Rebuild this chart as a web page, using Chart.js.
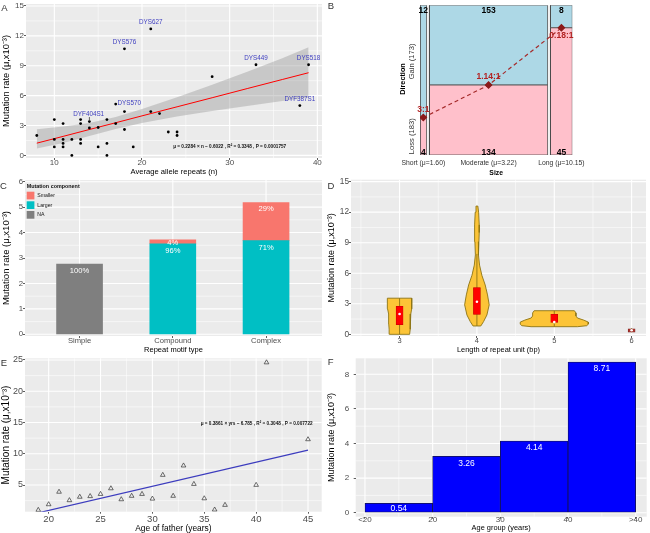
<!DOCTYPE html>
<html>
<head>
<meta charset="utf-8">
<title>Y-STR mutation rates</title>
<script src="https://cdn.jsdelivr.net/npm/chart.js@4.4.1/dist/chart.umd.min.js"></script>
<style>
html, body { margin: 0; padding: 0; background: #ffffff; }
#fig { position: relative; width: 650px; height: 533px; overflow: hidden; background: #ffffff; }
#fig canvas { position: absolute; left: 0; top: 0; }
</style>
</head>
<body>
<div id="fig">
  <canvas id="panelA" width="650" height="533"></canvas>
  <canvas id="panelB" width="650" height="533"></canvas>
  <canvas id="panelC" width="650" height="533"></canvas>
  <canvas id="panelD" width="650" height="533"></canvas>
  <canvas id="panelE" width="650" height="533"></canvas>
  <canvas id="panelF" width="650" height="533"></canvas>
</div>
<script>
// ===================== DATA =====================
// Panel A: mutation rate vs average allele repeats
const aRepeats = [8,10,10,10,11,11,11,11,12,12,13,13,13,13,14,14,15,15,16,16,16,17,17,18,18,18,19,21,21,22,23,24,24,28,33,39,38];
const aRates   = [2.0,3.6,1.6,0.85,3.2,1.6,1.2,0.85,1.6,0,3.6,3.2,1.6,1.2,3.4,2.75,2.8,0.85,3.6,1.2,0,5.15,3.2,10.7,4.4,2.6,0.85,12.7,4.4,4.2,2.35,2.35,2.0,7.9,9.1,9.1,5.0];
const aFitRepeats = [8, 11, 14, 17, 20, 24, 28, 32, 36, 39];
const aFitRates   = [1.23, 1.91, 2.60, 3.28, 3.97, 4.88, 5.79, 6.71, 7.62, 8.30];
const aBandUpper  = [2.62, 2.90, 3.25, 3.85, 4.65, 5.85, 7.10, 8.40, 9.75, 10.85];
const aBandLower  = [0.70, 1.25, 1.95, 2.65, 3.25, 3.90, 4.45, 4.95, 5.45, 5.80];
const aLabelNames   = ['DYS627','DYS576','DYS449','DYS518','DYF387S1','DYS570','DYF404S1'];
const aLabelRepeats = [21, 18, 33, 39, 38, 17, 14];
const aLabelRates   = [12.7, 10.7, 9.1, 9.1, 5.0, 5.15, 3.4];
const aEquation = 'μ = 0.2284 × n − 0.6022 , R² = 0.3348 , P = 0.0001757';

// Panel B: mosaic of size vs direction
const bSizeLabels = ['Short (μ=1.60)', 'Moderate (μ=3.22)', 'Long (μ=10.15)'];
const bGain = [12, 153, 8];
const bLoss = [4, 134, 45];

// Panel C: mutation rate by repeat motif type
const cTypes   = ['Simple', 'Compound', 'Complex'];
const cNA      = [2.76, null, null];
const cLarger  = [null, 3.56, 3.68];
const cSmaller = [null, 0.15, 1.50];

// Panel D: violins by length of repeat unit
const dLengths     = [3, 4, 5, 6];
const dBoxLow      = [0.95, 1.95, 1.18, 0.22];
const dBoxHigh     = [2.75, 4.60, 1.97, 0.55];
const dMedians     = [2.0, 3.2, 1.2, 0.4];
const dWhiskerLow  = [0, 0.82, 0.75, 0.2];
const dWhiskerHigh = [3.55, 7.9, 2.32, 0.6];
const dViolin3Rates = [0, 0.5, 1.0, 1.5, 2.0, 2.5, 3.0, 3.55];
const dViolin3Half  = [0.13, 0.135, 0.14, 0.138, 0.145, 0.155, 0.158, 0.158];
const dViolin4Rates = [0.82, 1.25, 1.9, 2.9, 3.87, 4.85, 5.8, 6.8, 7.8, 9.1, 10.0, 10.75, 12.0, 12.6];
const dViolin4Half  = [0.05, 0.086, 0.129, 0.159, 0.137, 0.107, 0.064, 0.034, 0.02, 0.026, 0.03, 0.03, 0.022, 0.012];
const dViolin5Rates = [0.75, 0.85, 1.0, 1.2, 1.4, 1.6, 1.8, 2.1, 2.32];
const dViolin5Half  = [0.30, 0.42, 0.44, 0.44, 0.38, 0.30, 0.28, 0.28, 0.26];

// Panel E: mutation rate vs age of father
const eAges  = [19,20,21,22,23,24,25,26,27,28,29,30,31,32,33,34,35,36,37,40,41,45];
const eRates = [1.0,1.9,3.9,2.55,3.1,3.2,3.55,4.45,2.7,3.25,3.55,2.8,6.6,3.25,8.1,5.15,2.85,1.05,1.8,5.0,24.6,12.3];
const eFitAges  = [19, 45];
const eFitRates = [0.55, 10.59];
const eEquation = 'μ = 0.3861 × yrs − 6.785 , R² = 0.3048 , P = 0.007722';

// Panel F: mutation rate by age group
const fTickLabels = ['<20', '20', '30', '40', '>40'];
const fRates = [0.54, 3.26, 4.14, 8.71];

// ===================== HELPERS =====================
const FONT = "'Liberation Sans', Arial, Helvetica, sans-serif";
Chart.defaults.font.family = FONT;
const CW = 650, CH = 533;
const PANEL_BG = '#EBEBEB';
const YTITLE = 'Mutation rate (μ,x10⁻³)';

function font(size, weight) { return (weight ? weight + ' ' : '') + size + 'px ' + FONT; }
function pts(xs, ys) { return xs.map((x, i) => ({ x: x, y: ys[i] })); }

// ggplot-like panel: grey background plus white major/minor grid lines
function bgPlugin(color, gx, gy) {
  return { id: 'panelBg', beforeDraw(chart) {
    const a = chart.chartArea, ctx = chart.ctx;
    ctx.save();
    ctx.fillStyle = color; ctx.fillRect(a.left, a.top, a.right - a.left, a.bottom - a.top);
    ctx.strokeStyle = '#FFFFFF';
    const draw = (spec, scale, horiz) => {
      if (!spec) return;
      [[spec.minor || [], 0.55], [spec.major, 1.1]].forEach(([vals, w]) => {
        ctx.lineWidth = w;
        vals.forEach(v => {
          const p = scale.getPixelForValue(v);
          if (p < (horiz ? a.left : a.top) - 0.5 || p > (horiz ? a.right : a.bottom) + 0.5) return;
          ctx.beginPath();
          if (horiz) { ctx.moveTo(p, a.top); ctx.lineTo(p, a.bottom); }
          else { ctx.moveTo(a.left, p); ctx.lineTo(a.right, p); }
          ctx.stroke();
        });
      });
    };
    draw(gy, chart.scales.y, false);
    draw(gx, chart.scales.x, true);
    ctx.restore();
  }};
}
function textPlugin(items, extra) {
  return { id: 'panelText', afterDraw(chart) {
    const ctx = chart.ctx, sx = chart.scales.x, sy = chart.scales.y;
    if (extra) extra(chart, ctx);
    for (const it of items) {
      let x = it.dx !== undefined ? sx.getPixelForValue(it.dx) : it.x;
      let y = it.dy !== undefined ? sy.getPixelForValue(it.dy) : it.y;
      x += it.ox || 0; y += it.oy || 0;
      ctx.save(); ctx.translate(x, y); if (it.rot) ctx.rotate(it.rot);
      ctx.font = it.font || font(8); ctx.fillStyle = it.color || '#000';
      ctx.textAlign = it.align || 'center'; ctx.textBaseline = 'middle';
      if (it.maxW) ctx.fillText(it.text, 0, 0, it.maxW); else ctx.fillText(it.text, 0, 0);
      ctx.restore();
    }
  }};
}
function ggAxis(o) {
  const major = o.major, minor = o.minor || [];
  const all = major.concat(minor).sort((a, b) => a - b);
  const isMajor = v => major.some(m => Math.abs(m - v) < 1e-9);
  return {
    type: 'linear', min: o.min, max: o.max, bounds: 'data', grace: 0, offset: false, stacked: !!o.stacked,
    afterBuildTicks: s => { s.ticks = all.map(v => ({ value: v })); },
    afterFit: s => {
      if (o.horizontal) s.height = o.size; else s.width = o.size;
      s.paddingTop = 0; s.paddingBottom = 0; s.paddingLeft = 0; s.paddingRight = 0;
    },
    grid: {
      display: o.drawTicks !== false, drawOnChartArea: false, offset: false,
      color: 'rgba(0,0,0,0)',
      drawTicks: o.drawTicks !== false, tickLength: 2, tickWidth: 0.8,
      tickColor: c => (c.tick && isMajor(c.tick.value)) ? '#333333' : 'rgba(0,0,0,0)'
    },
    border: { display: false },
    ticks: {
      autoSkip: false, maxRotation: 0, minRotation: 0, padding: o.tickPad || 0,
      color: o.tickColor || '#4D4D4D',
      font: { family: FONT, size: o.tickSize || 8, lineHeight: 1 },
      callback: v => isMajor(v) ? (o.label ? o.label(v) : String(v)) : ''
    },
    title: {
      display: !!o.title, text: o.title || '', color: '#000',
      font: { family: FONT, size: o.titleSize || 8, lineHeight: 1, weight: o.titleWeight || 'normal' },
      padding: { top: o.titlePad || 0, bottom: o.titlePad || 0 }
    }
  };
}
function baseOptions(area, yW, xH, scales) {
  return {
    responsive: false, animation: false, devicePixelRatio: 1,
    events: [],
    layout: { padding: { left: area.l - yW, top: area.t, right: CW - area.r, bottom: CH - area.b - xH } },
    plugins: { legend: { display: false }, tooltip: { enabled: false }, title: { display: false } },
    scales: scales
  };
}
function rectPts(x0, x1, y0, y1) {
  return [{x:x0,y:y0},{x:x1,y:y0},{x:x1,y:y1},{x:x0,y:y1},{x:x0,y:y0}];
}
function violinPts(c, ys, hw) {
  const left = ys.map((y, i) => ({ x: c - hw[i], y: y }));
  const right = ys.map((y, i) => ({ x: c + hw[i], y: y })).reverse();
  return left.concat(right, [left[0]]);
}

// ===================== PANEL A =====================
(function () {
  const area = { l: 26, t: 2, r: 322, b: 158 };
  const yW = 26, xH = 17.8;
  const gx = { major: [10,20,30,40], minor: [15,25,35] };
  const gy = { major: [0,3,6,9,12,15], minor: [1.5,4.5,7.5,10.5,13.5] };
  const offsets = [[0,-6.7,'center'],[0,-6.3,'center'],[0,-7,'center'],[0,-7,'center'],[0,-6.7,'center'],[1.8,-0.6,'left'],[-0.7,-7.6,'center']];
  const items = [{ text: 'A', x: 4.5, y: 8, font: font(9.5), color: '#333' }];
  aLabelNames.forEach((n, i) => items.push({ text: n, dx: aLabelRepeats[i], dy: aLabelRates[i], ox: offsets[i][0], oy: offsets[i][1], align: offsets[i][2], font: font(6.3), color: '#4040C0' }));
  items.push({ text: aEquation, dx: 30, dy: 0.92, font: font(5.5, 'bold'), maxW: 113, color: '#111' });
  const extra = (chart, ctx) => {
    const i = 6;
    const x = chart.scales.x.getPixelForValue(aLabelRepeats[i]);
    const y = chart.scales.y.getPixelForValue(aLabelRates[i]);
    ctx.save(); ctx.strokeStyle = '#222'; ctx.lineWidth = 0.7;
    ctx.beginPath(); ctx.moveTo(x, y - 4.5); ctx.lineTo(x, y - 1.2); ctx.stroke(); ctx.restore();
  };
  new Chart(document.getElementById('panelA'), {
    type: 'scatter',
    data: { datasets: [
      { type: 'scatter', data: pts(aRepeats, aRates), pointRadius: 1.4, pointBackgroundColor: '#000', pointBorderWidth: 0, order: 0 },
      { type: 'line', data: pts(aFitRepeats, aFitRates), showLine: true, borderColor: '#FF0000', borderWidth: 1, pointRadius: 0, fill: false, order: 1 },
      { type: 'line', data: pts(aFitRepeats, aBandUpper), showLine: true, borderColor: 'rgba(0,0,0,0)', borderWidth: 0, pointRadius: 0, fill: 3, backgroundColor: 'rgba(153,153,153,0.42)', order: 2 },
      { type: 'line', data: pts(aFitRepeats, aBandLower), showLine: true, borderColor: 'rgba(0,0,0,0)', borderWidth: 0, pointRadius: 0, fill: false, order: 3 }
    ]},
    options: baseOptions(area, yW, xH, {
      x: ggAxis(Object.assign({ horizontal: true, size: xH, min: 6.77, max: 40.53, tickSize: 8, tickPad: -1.5, title: 'Average allele repeats (n)', titleSize: 7.6 }, gx)),
      y: ggAxis(Object.assign({ size: yW, min: -0.26, max: 15.2, tickSize: 8, title: YTITLE, titleSize: 9.3, titlePad: 1.35 }, gy))
    }),
    plugins: [bgPlugin(PANEL_BG, gx, gy), textPlugin(items, extra)]
  });
})();

// ===================== PANEL B =====================
(function () {
  const area = { l: 420, t: 2.7, r: 572.3, b: 155 };
  const xH = 21.4;
  const gap = 7;
  const totals = bGain.map((g, i) => g + bLoss[i]);
  const x0 = []; let acc = 0;
  totals.forEach(t => { x0.push(acc); acc += t + gap; });
  const xMax = acc - gap;
  const x1 = x0.map((x, i) => x + totals[i]);
  const centers = x0.map((x, i) => (x + x1[i]) / 2);
  const lossFrac = bLoss.map((l, i) => l / totals[i]);
  const datasets = [];
  totals.forEach((t, i) => {
    datasets.push({ type: 'line', data: rectPts(x0[i], x1[i], 0, lossFrac[i]), showLine: true, fill: 'shape', backgroundColor: '#FFC0CB', borderColor: '#4A4A4A', borderWidth: 0.8, pointRadius: 0, tension: 0, order: 5 });
    datasets.push({ type: 'line', data: rectPts(x0[i], x1[i], lossFrac[i], 1), showLine: true, fill: 'shape', backgroundColor: '#ADD8E6', borderColor: '#4A4A4A', borderWidth: 0.8, pointRadius: 0, tension: 0, order: 5 });
  });
  datasets.push({ type: 'line', data: pts(centers, lossFrac), showLine: true, fill: false, borderColor: '#A52A2A', borderWidth: 1.2, borderDash: [4, 3],
    pointStyle: 'rectRot', pointRadius: 3.2, pointBackgroundColor: '#8B1A1A', pointBorderColor: '#8B1A1A', order: 0 });
  const sum = a => a.reduce((s, v) => s + v, 0);
  const ratioOffsets = [-8.3, -8.3, 8.3];
  const items = [{ text: 'B', x: 331, y: 6.5, font: font(9.5), color: '#333' }];
  centers.forEach((c, i) => {
    items.push({ text: String(bGain[i]), dx: c, dy: 1, oy: 5.6, font: font(8.5, 'bold') });
    items.push({ text: String(bLoss[i]), dx: c, dy: 0, oy: -2.4, font: font(8.5, 'bold') });
    items.push({ text: (+(bGain[i] / bLoss[i]).toFixed(2)) + ':1', dx: c, dy: lossFrac[i], oy: ratioOffsets[i], font: font(8.5, 'bold'), color: '#B22222' });
  });
  items.push({ text: 'Direction', x: 403.3, y: 79, rot: -Math.PI / 2, font: font(7.3, 'bold') });
  items.push({ text: 'Gain (' + sum(bGain) + ')', x: 412.3, dy: (lossFrac[0] + 1) / 2, rot: -Math.PI / 2, font: font(7.6), color: '#333' });
  items.push({ text: 'Loss (' + sum(bLoss) + ')', x: 412.3, dy: lossFrac[0] / 2, rot: -Math.PI / 2, font: font(7.6), color: '#333' });
  new Chart(document.getElementById('panelB'), {
    type: 'scatter',
    data: { datasets: datasets },
    options: baseOptions(area, 0, xH, {
      x: ggAxis({ horizontal: true, size: xH, min: 0, max: xMax, major: centers, drawTicks: false, tickPad: 4.6, tickSize: 6.8, tickColor: '#333',
        label: v => bSizeLabels[centers.findIndex(c => Math.abs(c - v) < 1e-9)], title: 'Size', titleSize: 6.8, titleWeight: 'bold' }),
      y: { display: false, min: 0, max: 1 }
    }),
    plugins: [textPlugin(items)]
  });
})();

// ===================== PANEL C =====================
(function () {
  const area = { l: 25, t: 180, r: 322, b: 336 };
  const yW = 25, xH = 17.25;
  const pos = cTypes.map((t, i) => i + 1);
  const gx = { major: pos, minor: [] };
  const gy = { major: [0,1,2,3,4,5,6], minor: [0.5,1.5,2.5,3.5,4.5,5.5] };
  const mk = arr => pos.map((p, i) => arr[i] === null ? null : { x: p, y: arr[i] }).filter(d => d);
  const datasets = [
    { label: 'NA', data: mk(cNA), backgroundColor: '#7F7F7F' },
    { label: 'Larger', data: mk(cLarger), backgroundColor: '#00BFC4' },
    { label: 'Smaller', data: mk(cSmaller), backgroundColor: '#F8766D' }
  ];
  datasets.forEach(d => { d.barThickness = 46; d.borderWidth = 0; });
  const items = [{ text: 'C', x: 3.5, y: 186.5, font: font(9.5), color: '#333' }];
  const lbl = { font: font(7.6), color: '#FFFFFF' };
  pos.forEach((p, i) => {
    const total = (cNA[i] || 0) + (cLarger[i] || 0) + (cSmaller[i] || 0);
    if (cNA[i] !== null) items.push(Object.assign({ text: Math.round(100 * cNA[i] / total) + '%', dx: p, dy: cNA[i], oy: 7.3 }, lbl));
    if (cLarger[i] !== null) items.push(Object.assign({ text: Math.round(100 * cLarger[i] / total) + '%', dx: p, dy: cLarger[i], oy: 6.8 }, lbl));
    if (cSmaller[i] !== null) items.push(Object.assign({ text: Math.round(100 * cSmaller[i] / total) + '%', dx: p, dy: total, oy: cSmaller[i] < 0.5 ? 3.4 : 6.3 }, lbl));
  });
  const legend = (chart, ctx) => {
    ctx.save();
    ctx.fillStyle = '#111'; ctx.font = font(5.4, 'bold'); ctx.textAlign = 'left'; ctx.textBaseline = 'middle';
    ctx.fillText('Mutation component', 26.7, 186.8);
    const order = [2, 1, 0];
    const ys = [191.7, 201.3, 211];
    order.forEach((di, k) => {
      const ds = chart.data.datasets[di];
      ctx.fillStyle = ds.backgroundColor; ctx.fillRect(26.7, ys[k], 7.7, 7.7);
      ctx.fillStyle = '#111'; ctx.font = font(5.2);
      ctx.fillText(ds.label, 37.3, ys[k] + 3.9);
    });
    ctx.restore();
  };
  new Chart(document.getElementById('panelC'), {
    type: 'bar',
    data: { datasets: datasets },
    options: baseOptions(area, yW, xH, {
      x: ggAxis(Object.assign({ horizontal: true, size: xH, min: 0.415, max: 3.6, stacked: true, tickSize: 7.6, tickPad: -1.1,
        label: v => cTypes[Math.round(v) - 1], title: 'Repeat motif type', titleSize: 7.5 }, gx)),
      y: ggAxis(Object.assign({ size: yW, min: -0.066, max: 6.066, stacked: true, tickSize: 7.8, title: YTITLE, titleSize: 9.5, titlePad: 1.25 }, gy))
    }),
    plugins: [bgPlugin(PANEL_BG, gx, gy), textPlugin(items, legend)]
  });
})();

// ===================== PANEL D =====================
(function () {
  const area = { l: 351, t: 179.7, r: 646.7, b: 336 };
  const yW = 26, xH = 17.7;
  const gx = { major: [3,4,5,6], minor: [2.5,3.5,4.5,5.5] };
  const gy = { major: [0,3,6,9,12,15], minor: [1.5,4.5,7.5,10.5,13.5] };
  const vFill = '#FCC437', vLine = '#8C7414';
  const profiles = [[dViolin3Rates, dViolin3Half], [dViolin4Rates, dViolin4Half], [dViolin5Rates, dViolin5Half]];
  const datasets = [];
  profiles.forEach((p, i) => {
    datasets.push({ type: 'line', data: violinPts(dLengths[i], p[0], p[1]), showLine: true, fill: 'shape', backgroundColor: vFill, borderColor: vLine, borderWidth: 0.9, pointRadius: 0, tension: 0, order: 4 });
  });
  dLengths.forEach((c, i) => {
    datasets.push({ type: 'line', data: [{ x: c, y: dWhiskerLow[i] }, { x: c, y: dWhiskerHigh[i] }], showLine: true, fill: false, borderColor: vLine, borderWidth: 0.9, pointRadius: 0, order: 3 });
  });
  datasets.push({ type: 'bar', data: dLengths.map((c, i) => ({ x: c, y: [dBoxLow[i], dBoxHigh[i]] })), barThickness: 7,
    backgroundColor: ['#FF0000', '#FF0000', '#FF0000', '#A8322A'], borderColor: ['#C00000', '#C00000', '#C00000', '#7A1E1E'], borderWidth: 0.6, borderSkipped: false, order: 2 });
  datasets.push({ type: 'scatter', data: pts(dLengths, dMedians), pointRadius: 1.3, pointBackgroundColor: '#FFFFFF', pointBorderWidth: 0, order: 0 });
  const items = [{ text: 'D', x: 331, y: 186.7, font: font(9.5), color: '#333' }];
  new Chart(document.getElementById('panelD'), {
    type: 'scatter',
    data: { datasets: datasets },
    options: baseOptions(area, yW, xH, {
      x: ggAxis(Object.assign({ horizontal: true, size: xH, min: 2.372, max: 6.186, tickSize: 7.5, tickPad: -1.2, title: 'Length of repeat unit (bp)', titleSize: 7.4 }, gx)),
      y: ggAxis(Object.assign({ size: yW, min: -0.164, max: 15.19, tickSize: 8.3, title: YTITLE, titleSize: 9, titlePad: 2.2 }, gy))
    }),
    plugins: [bgPlugin(PANEL_BG, gx, gy), textPlugin(items)]
  });
})();

// ===================== PANEL E =====================
(function () {
  const area = { l: 25, t: 358.3, r: 321.7, b: 511.7 };
  const yW = 25, xH = 20.8;
  const gx = { major: [20,25,30,35,40,45], minor: [22.5,27.5,32.5,37.5,42.5] };
  const gy = { major: [5,10,15,20,25], minor: [2.5,7.5,12.5,17.5,22.5] };
  const items = [
    { text: 'E', x: 4, y: 363.3, font: font(9.5), color: '#333' },
    { text: eEquation, dx: 40.05, dy: 14.87, font: font(5.5, 'bold'), maxW: 112, color: '#111' }
  ];
  new Chart(document.getElementById('panelE'), {
    type: 'scatter',
    data: { datasets: [
      { type: 'scatter', data: pts(eAges, eRates), pointStyle: 'triangle', pointRadius: 2.7, pointBackgroundColor: 'rgba(0,0,0,0)', pointBorderColor: '#333', pointBorderWidth: 0.7, order: 0 },
      { type: 'line', data: pts(eFitAges, eFitRates), showLine: true, borderColor: '#3C3CBE', borderWidth: 1.2, pointRadius: 0, fill: false, order: 1 }
    ]},
    options: baseOptions(area, yW, xH, {
      x: ggAxis(Object.assign({ horizontal: true, size: xH, min: 17.72, max: 46.32, tickSize: 9.5, tickPad: 0.8, title: 'Age of father (years)', titleSize: 8.4 }, gx)),
      y: ggAxis(Object.assign({ size: yW, min: 0.73, max: 25.27, tickSize: 9, title: YTITLE, titleSize: 10, titlePad: 1 }, gy))
    }),
    plugins: [bgPlugin(PANEL_BG, gx, gy), textPlugin(items)]
  });
})();

// ===================== PANEL F =====================
(function () {
  const area = { l: 355.7, t: 358.3, r: 646.7, b: 516.7 };
  const yW = 30.7, xH = 14.7;
  const xMin = -0.137, xMax = 4.163;
  const gx = { major: [0,1,2,3,4], minor: [0.5,1.5,2.5,3.5] };
  const gy = { major: [0,2,4,6,8], minor: [1,3,5,7] };
  const labelOffsets = [5, 7, 7, 7];
  const unitPx = (area.r - area.l) / (xMax - xMin);   // each age-group bar spans one x unit
  const items = [{ text: 'F', x: 330.7, y: 362.3, font: font(9.5), color: '#333' }];
  fRates.forEach((v, i) => items.push({ text: v.toFixed(2), dx: i + 0.5, dy: v, oy: labelOffsets[i], font: font(8.5), color: '#FFFFFF' }));
  new Chart(document.getElementById('panelF'), {
    type: 'bar',
    data: { datasets: [
      { data: fRates.map((v, i) => ({ x: i + 0.5, y: v })), backgroundColor: '#0000FF', borderColor: '#15154A', borderWidth: 0.8, borderSkipped: false, barThickness: unitPx }
    ]},
    options: baseOptions(area, yW, xH, {
      x: ggAxis(Object.assign({ horizontal: true, size: xH, min: xMin, max: xMax, tickSize: 8, tickPad: -3.4,
        label: v => fTickLabels[Math.round(v)], title: 'Age group (years)', titleSize: 7.4 }, gx)),
      y: ggAxis(Object.assign({ size: yW, min: -0.231, max: 8.925, tickSize: 8, tickPad: 4.5, title: YTITLE, titleSize: 9, titlePad: 2.2 }, gy))
    }),
    plugins: [bgPlugin(PANEL_BG, gx, gy), textPlugin(items)]
  });
})();
</script>
</body>
</html>
